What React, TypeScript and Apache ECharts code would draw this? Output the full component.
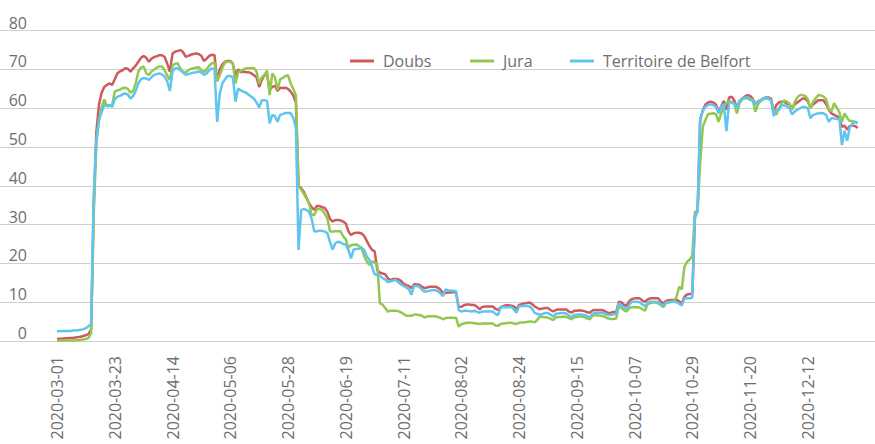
import React, { useEffect, useRef } from "react";
import * as echarts from "echarts";

const START_DATE = "2020-03-01";
const DAY_COUNT = 306;
const SERIES_NAMES = ["Doubs", "Jura", "Territoire de Belfort"];
const SERIES_COLORS = ["#CF5A5C", "#92C850", "#5FC5F0"];

// Daily values, one row per week (Sunday first), from 2020-03-01 to 2020-12-31
const doubs = [
  0.5, 0.6, 0.6, 0.7, 0.7, 0.8, 0.8,
  0.9, 1.0, 1.1, 1.3, 1.5, 1.8, 3,
  35, 54, 61, 64, 65.5, 66, 66.4,
  66, 67.5, 69, 69.5, 69.8, 70.3, 70.2,
  69.4, 70.3, 71, 72, 73, 73.5, 73,
  72, 72.8, 73.2, 73.4, 73.7, 73.7, 73.2,
  71.5, 69.4, 74.1, 74.6, 74.8, 75, 74.5,
  73.3, 73.5, 73.8, 74, 74.1, 74, 73.5,
  72.2, 72.8, 73.5, 73.8, 73.7, 67, 70,
  71.3, 72, 72.2, 72.2, 71.5, 68.3, 70,
  69.3, 69.5, 69.3, 69.3, 69, 68.5, 68,
  65.5, 67.3, 68.5, 68.8, 64.7, 65.5, 65.8,
  64.5, 65.3, 65.2, 65.3, 65, 64.3, 63.3,
  61.5, 40, 39.4, 38.5, 37, 35.5, 34.5,
  33.8, 34.8, 34.8, 34.5, 34.3, 33.3, 31.5,
  30.8, 31.2, 31.2, 31.1, 30.8, 30.3, 28.3,
  27.3, 27.8, 27.9, 27.9, 27.7, 27.1, 25.8,
  24.5, 23.5, 23.1, 18.3, 17.6, 17.4, 17.2,
  16.2, 15.7, 16, 16, 15.9, 15.5, 14.8,
  14.4, 14.2, 13.6, 14.6, 14.6, 14.5, 14,
  13.6, 13.8, 14, 14, 14, 13.8, 13.3,
  12.3, 12.4, 12.5, 12.5, 12.6, 12.5, 8.8,
  8.8, 9.2, 9.4, 9.4, 9.3, 9.3, 8.8,
  8.2, 8.8, 8.9, 8.9, 8.9, 8.9, 8.3,
  8, 8.7, 9, 9.2, 9.2, 9.1, 8.9,
  8.2, 9.3, 9.5, 9.7, 9.8, 9.9, 9.5,
  8.9, 8.5, 8.2, 8.4, 8.5, 8.5, 8,
  7.6, 8, 8.1, 8.1, 8.1, 8.1, 7.6,
  7.3, 7.8, 7.8, 7.9, 7.8, 7.7, 7.4,
  7.3, 7.9, 8, 8, 8, 7.9, 7.6,
  7.2, 7.3, 7.5, 7.4, 10.1, 10, 9.3,
  9.1, 10.3, 10.8, 11, 11, 11, 10.4,
  10.1, 10.7, 11, 11, 11, 11, 10.2,
  9.7, 10.3, 10.5, 10.6, 10.6, 10.6, 10.2,
  9.7, 11.4, 12, 12.1, 12.2, 32, 33.5,
  57, 59.5, 61, 61.5, 61.7, 61.5, 61,
  59.1, 60.5, 61.9, 59.6, 62.8, 63, 62,
  60, 61.9, 62.5, 63, 63.4, 63.2, 62.5,
  60.9, 61.8, 62, 62.5, 62.8, 62.8, 62.5,
  59.3, 60.8, 61.5, 61.7, 61.7, 61.2, 61,
  60, 61, 61.5, 62, 62.5, 62.5, 61.8,
  60.2, 61, 61.5, 62.1, 62.1, 62, 61,
  59.6, 58.7, 58.3, 58, 57.5, 55.2, 55.5,
  54.5, 55.4, 55.6, 55.4, 54.9,
];

const jura = [
  0.1, 0.1, 0.1, 0.1, 0.1, 0.1, 0.1,
  0.2, 0.2, 0.3, 0.4, 0.5, 0.8, 2,
  33, 51, 57, 60.2, 62.3, 60.5, 60.6,
  60.8, 64.3, 64.6, 64.8, 65.2, 65.3, 65,
  64, 64.5, 66.5, 69.5, 70.5, 70.8, 69,
  68.6, 69.5, 70, 70.5, 70.8, 70.8, 69.8,
  68.5, 67.3, 71, 71.5, 71.6, 70.2, 69.4,
  69.2, 69.8, 70.2, 70.3, 70.5, 70.6, 69.8,
  69.4, 70, 71, 71.6, 71.8, 67, 68.5,
  70.5, 71.8, 72, 72, 71.5, 66.4, 69.3,
  69.6, 70, 70.3, 70.3, 70.4, 70.4, 69.5,
  66.4, 68, 68.6, 69.7, 63.4, 69, 68,
  64.7, 67.5, 67.8, 68.3, 68.5, 66.4, 65,
  63.3, 40, 39, 38, 36.8, 35.5, 32.5,
  32.5, 34, 34, 33.8, 32.8, 31.6, 28.2,
  28.2, 28.3, 28.3, 28.3, 27, 26.2, 24.1,
  24.7, 24.8, 24.9, 24.5, 24.1, 21.9, 20.5,
  19.6, 20.5, 20.3, 19.6, 9.7, 9.4, 8.5,
  7.6, 7.8, 7.8, 7.8, 7.7, 7.4, 7,
  6.5, 6.5, 6.5, 6.8, 6.8, 6.7, 6.5,
  6.1, 6.3, 6.4, 6.4, 6.4, 6.2, 6,
  5.6, 5.9, 6, 6, 6, 6, 3.7,
  4.3, 4.5, 4.7, 4.7, 4.7, 4.6, 4.5,
  4.4, 4.5, 4.5, 4.5, 4.5, 4.5, 4,
  3.9, 4.4, 4.5, 4.6, 4.7, 4.7, 4.5,
  4.4, 4.7, 4.8, 4.8, 4.9, 5, 5,
  4.8, 5.5, 6.3, 6.2, 6.1, 6, 5.7,
  5.4, 6.1, 6.2, 6.2, 6.3, 6.2, 5.9,
  5.6, 6.1, 6.2, 6.3, 6.3, 6.1, 5.8,
  5.6, 6.5, 6.7, 6.6, 6.5, 6.4, 6.1,
  5.8, 5.7, 5.7, 5.8, 8.9, 8.5, 7.9,
  7.6, 8.5, 8.7, 8.7, 8.7, 8.6, 8.2,
  7.8, 9.5, 9.8, 9.9, 9.9, 9.7, 9.2,
  8.7, 9.9, 10, 10.1, 10.3, 11.4, 14,
  13.3, 19.2, 20.4, 21, 22, 33.3, 33.5,
  46, 55.2, 57, 58.5, 58.6, 58.7, 58.5,
  56.5, 58.7, 60.4, 61.4, 61.8, 61.6, 61,
  58.7, 61.3, 62.3, 62.6, 62.8, 62.5, 62.2,
  59.1, 61, 61.8, 62.3, 62.5, 62.5, 62,
  59.5, 58.3, 60, 61.3, 62, 61.7, 61.2,
  59.6, 61.6, 62.8, 63.4, 63.4, 63.2, 62.3,
  60, 61.6, 62.6, 63.4, 63.3, 63, 62.3,
  59.8, 59.2, 61.3, 60.2, 59, 56.5, 58.7,
  57.5, 56.7, 56.7, 56.5, 56.1,
];

const belfort = [
  2.5, 2.5, 2.6, 2.6, 2.6, 2.6, 2.7,
  2.7, 2.8, 2.9, 3.0, 3.3, 3.8, 4.5,
  38, 52, 57, 59, 60.8, 60.8, 60.8,
  60.4, 62.3, 63, 63.2, 63.6, 63.8, 63.5,
  62.5, 63.2, 64.5, 66.4, 67.5, 67.8, 67.7,
  67.3, 68, 68.6, 68.8, 69, 68.7, 68.2,
  66.9, 64.5, 69.4, 70.3, 70.3, 69.8, 69.2,
  68.6, 68.8, 69, 69.2, 69.3, 69.5, 69.2,
  68.6, 69, 69.8, 70.3, 70.1, 56.5, 63.8,
  66.4, 67.5, 68.3, 68.3, 68, 61.7, 65.1,
  64.6, 64.3, 64, 63.5, 63, 62.5, 61.5,
  60.2, 62, 62.1, 61.9, 56.1, 58.3, 58,
  56.5, 58.3, 58.5, 58.8, 58.8, 58.8, 57.5,
  55, 23.5, 33.8, 34, 33.8, 33.3, 31.6,
  28.2, 28.3, 28.4, 28.4, 28.2, 27.8, 25.5,
  23.6, 25.2, 25.6, 25.4, 25, 24.9, 23.5,
  21.3, 23.6, 23.7, 23.8, 23.9, 23.5, 21.8,
  20.9, 19.2, 17.2, 17, 16.8, 16.2, 15.9,
  15.2, 15.4, 15.6, 15.7, 15.2, 14.6, 14.2,
  13.8, 13.4, 11.9, 14.2, 14.2, 14, 13.2,
  12.7, 12.8, 13, 13.1, 13.1, 12.9, 12.3,
  11.6, 13.3, 13.1, 13, 12.9, 12.9, 8,
  7.6, 7.8, 7.8, 7.7, 7.6, 7.8, 7.5,
  7.3, 7.6, 7.6, 7.6, 7.6, 7.6, 7,
  6.7, 8.7, 8.7, 8.7, 8.7, 8.8, 8.2,
  7.3, 9, 9, 9, 9, 8.9, 8.3,
  7.2, 7, 6.7, 7, 7.2, 7.2, 6.8,
  6.3, 7, 7.1, 7.2, 7.2, 7.1, 6.6,
  6.1, 6.7, 6.8, 6.8, 6.8, 6.7, 6.4,
  6.1, 7, 7.3, 7.3, 7.3, 7.2, 6.9,
  6.7, 6.7, 6.9, 7, 9.7, 9.2, 8.6,
  8.2, 9.4, 10.1, 10.1, 10.1, 10, 9.4,
  9, 9.8, 10.1, 10.1, 10.1, 10, 9.5,
  9.2, 9.8, 10, 10.1, 10.1, 10, 9.6,
  9.2, 10.9, 11, 11, 11.2, 32, 33.5,
  57.4, 59.3, 60.4, 60.8, 61, 60.8, 60.3,
  58.7, 60.5, 61.1, 54.1, 61.4, 61.6, 61.2,
  60, 62, 62.3, 62.8, 62.5, 62.2, 61.8,
  60.9, 61.7, 62, 62.5, 62.8, 62.6, 62,
  58, 59.5, 59.6, 60.8, 60.7, 60.5, 60,
  58.4, 59.2, 59.6, 60, 60.3, 60.3, 60,
  57.4, 58.3, 58.5, 58.7, 58.8, 58.7, 58.2,
  56.5, 57.4, 57.4, 57.2, 57.3, 50.5, 54.2,
  51.6, 55.1, 56, 56.5, 56.3,
];

const Y_MIN = 0;
const Y_MAX = 80;
const Y_STEP = 10;
const LABEL_EVERY = 22;
const LEGEND_LEFTS = [350, 470, 570];

function buildDates(start: string, count: number): string[] {
  const [y, m, d] = start.split("-").map(Number);
  const base = Date.UTC(y, m - 1, d);
  const out: string[] = [];
  for (let i = 0; i < count; i++) {
    const dt = new Date(base + i * 86400000);
    const mm = String(dt.getUTCMonth() + 1).padStart(2, "0");
    const dd = String(dt.getUTCDate()).padStart(2, "0");
    out.push(`${dt.getUTCFullYear()}-${mm}-${dd}`);
  }
  return out;
}

const dates = buildDates(START_DATE, DAY_COUNT);
const TEXT_COLOR = "#6e6e6e";

export default function App() {
  const ref = useRef<HTMLDivElement>(null);
  useEffect(() => {
    if (!ref.current) return;
    const chart = echarts.init(ref.current, undefined, { renderer: "svg" });
    const values = [doubs, jura, belfort];
    chart.setOption({
      animation: false,
      backgroundColor: "#ffffff",
      textStyle: { fontFamily: "Open Sans" },
      legend: SERIES_NAMES.map((name, k) => ({
        left: LEGEND_LEFTS[k],
        top: 53,
        icon: "rect",
        itemWidth: 24,
        itemHeight: 3,
        padding: 0,
        data: [name],
        textStyle: { fontSize: 16, color: TEXT_COLOR, padding: [0, 0, 0, 4] },
      })),
      grid: [
        { left: 0, right: 0, top: 30.7, bottom: 103 },
        { left: 57, right: 17.3, top: 30.7, bottom: 103 },
      ],
      xAxis: [
        { gridIndex: 0, type: "value", show: false, min: 0, max: 1 },
        {
          gridIndex: 1,
          type: "category",
          boundaryGap: false,
          data: dates,
          axisLine: { show: false },
          axisTick: { show: false },
          splitLine: { show: false },
          axisLabel: {
            interval: LABEL_EVERY - 1,
            rotate: 90,
            fontSize: 16,
            color: TEXT_COLOR,
            margin: 15,
          },
        },
      ],
      yAxis: [
        {
          gridIndex: 0,
          type: "value",
          min: Y_MIN,
          max: Y_MAX,
          interval: Y_STEP,
          axisLabel: { show: false },
          axisLine: { show: false },
          axisTick: { show: false },
          splitLine: { show: true, lineStyle: { color: "#cfcfcf", width: 1 } },
        },
        {
          gridIndex: 1,
          type: "value",
          min: Y_MIN,
          max: Y_MAX,
          interval: Y_STEP,
          axisLine: { show: false },
          axisTick: { show: false },
          splitLine: { show: false },
          axisLabel: {
            fontSize: 16,
            color: TEXT_COLOR,
            margin: 30,
            verticalAlign: "bottom",
          },
        },
      ],
      series: SERIES_NAMES.map((name, k) => ({
        name,
        type: "line",
        xAxisIndex: 1,
        yAxisIndex: 1,
        data: values[k],
        symbol: "none",
        showSymbol: false,
        color: SERIES_COLORS[k],
        lineStyle: { width: 2.5, color: SERIES_COLORS[k] },
      })),
    });
    return () => chart.dispose();
  }, []);
  return (
    <div
      ref={ref}
      style={{ position: "fixed", left: 0, top: 0, width: 875, height: 444, background: "#fff" }}
    />
  );
}
